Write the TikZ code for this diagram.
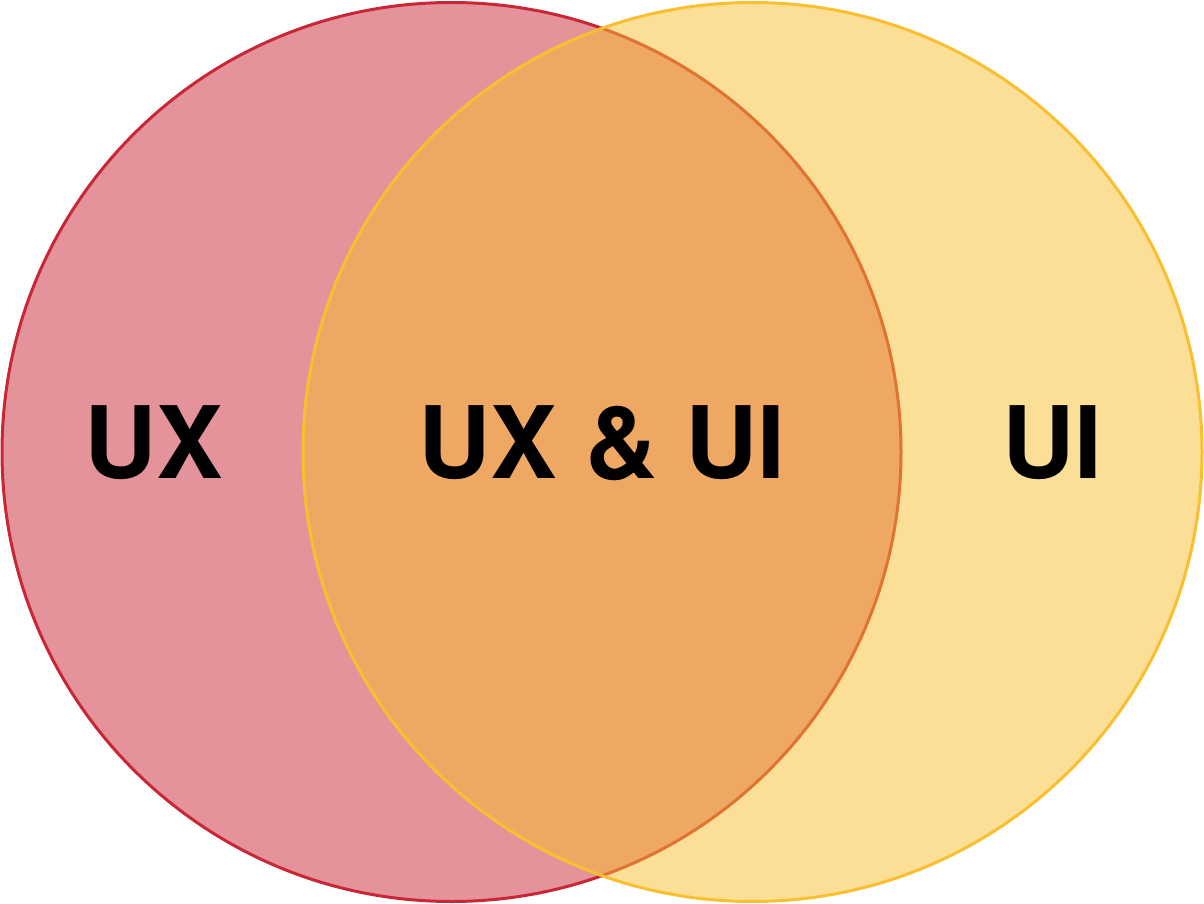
\documentclass[tikz,border=0pt]{standalone}
\usepackage{fontspec}
\setmainfont{TeX Gyre Heros}
\begin{document}
\begin{tikzpicture}[x=1pt,y=-1pt,
  setcircle/.style={line width=3pt, fill opacity=0.5, draw opacity=1},
  setlabel/.style={font=\fontsize{100}{110}\selectfont\bfseries, inner sep=0pt, anchor=base}]
  \useasboundingbox (0,0) rectangle (1204,904);
  % the two overlapping sets
  \draw[setcircle, draw={rgb,255:red,201;green,39;blue,53}, fill={rgb,255:red,201;green,39;blue,53}]
    (451.5,452) circle[radius=449.5];
  \draw[setcircle, draw={rgb,255:red,249;green,191;blue,47}, fill={rgb,255:red,249;green,191;blue,47}]
    (752.5,452) circle[radius=449.5];
  % labels
  \node[setlabel] (ux) at (154,478) {UX};
  \node[setlabel] (both) at (602,478) {UX \& UI};
  \node[setlabel] (ui) at (1052,478) {UI};
\end{tikzpicture}
\end{document}
